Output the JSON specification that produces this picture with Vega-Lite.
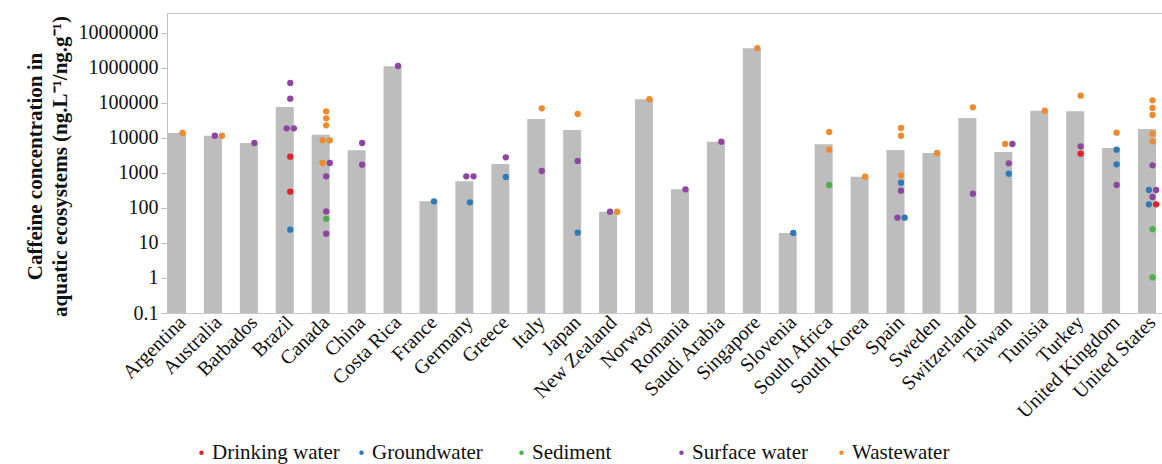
{
  "$schema": "https://vega.github.io/schema/vega-lite/v6.json",
  "autosize": {"type": "none"},
  "padding": {"left": 167, "top": 13, "right": 0, "bottom": 151},
  "width": 995,
  "height": 300,
  "background": "white",
  "config": {
    "view": {"stroke": "#c8c8c8", "strokeWidth": 1},
    "font": "Liberation Serif",
    "axis": {"labelFont": "Liberation Serif", "labelColor": "#111", "titleFont": "Liberation Serif", "titleColor": "#111", "domainColor": "#bfbfbf", "tickColor": "#bfbfbf", "grid": false},
    "legend": {"labelFont": "Times New Roman", "labelColor": "#111", "labelFontSize": 21}
  },
  "datasets": {
    "bars": [
      {"country": "Argentina", "value": 13900},
      {"country": "Australia", "value": 11600},
      {"country": "Barbados", "value": 7200},
      {"country": "Brazil", "value": 76900},
      {"country": "Canada", "value": 12400},
      {"country": "China", "value": 4450},
      {"country": "Costa Rica", "value": 1120000},
      {"country": "France", "value": 155},
      {"country": "Germany", "value": 578},
      {"country": "Greece", "value": 1810},
      {"country": "Italy", "value": 34900},
      {"country": "Japan", "value": 16900},
      {"country": "New Zealand", "value": 78},
      {"country": "Norway", "value": 127000},
      {"country": "Romania", "value": 341},
      {"country": "Saudi Arabia", "value": 7850},
      {"country": "Singapore", "value": 3650000},
      {"country": "Slovenia", "value": 19.3},
      {"country": "South Africa", "value": 6590},
      {"country": "South Korea", "value": 785},
      {"country": "Spain", "value": 4540},
      {"country": "Sweden", "value": 3730},
      {"country": "Switzerland", "value": 37300},
      {"country": "Taiwan", "value": 3980},
      {"country": "Tunisia", "value": 60400},
      {"country": "Turkey", "value": 57800},
      {"country": "United Kingdom", "value": 5180},
      {"country": "United States", "value": 18100}
    ],
    "points": [
      {"country": "Argentina", "type": "Wastewater", "value": 13900, "side": 0},
      {"country": "Australia", "type": "Surface water", "value": 11600, "side": -1},
      {"country": "Australia", "type": "Wastewater", "value": 11600, "side": 1},
      {"country": "Barbados", "type": "Surface water", "value": 7200, "side": 0},
      {"country": "Brazil", "type": "Surface water", "value": 373000, "side": 0},
      {"country": "Brazil", "type": "Surface water", "value": 133000, "side": 0},
      {"country": "Brazil", "type": "Surface water", "value": 18900, "side": -1},
      {"country": "Brazil", "type": "Surface water", "value": 18900, "side": 1},
      {"country": "Brazil", "type": "Drinking water", "value": 2920, "side": 0},
      {"country": "Brazil", "type": "Drinking water", "value": 292, "side": 0},
      {"country": "Brazil", "type": "Groundwater", "value": 24, "side": 0},
      {"country": "Canada", "type": "Wastewater", "value": 57800, "side": 0},
      {"country": "Canada", "type": "Wastewater", "value": 36500, "side": 0},
      {"country": "Canada", "type": "Wastewater", "value": 23000, "side": 0},
      {"country": "Canada", "type": "Wastewater", "value": 8570, "side": -1},
      {"country": "Canada", "type": "Wastewater", "value": 8570, "side": 1},
      {"country": "Canada", "type": "Wastewater", "value": 1930, "side": -1},
      {"country": "Canada", "type": "Surface water", "value": 1930, "side": 1},
      {"country": "Canada", "type": "Surface water", "value": 803, "side": 0},
      {"country": "Canada", "type": "Surface water", "value": 80, "side": 0},
      {"country": "Canada", "type": "Sediment", "value": 49, "side": 0},
      {"country": "Canada", "type": "Surface water", "value": 18.5, "side": 0},
      {"country": "China", "type": "Surface water", "value": 7200, "side": 0},
      {"country": "China", "type": "Surface water", "value": 1730, "side": 0},
      {"country": "Costa Rica", "type": "Surface water", "value": 1140000, "side": 0},
      {"country": "France", "type": "Groundwater", "value": 155, "side": 0},
      {"country": "Germany", "type": "Surface water", "value": 803, "side": -1},
      {"country": "Germany", "type": "Surface water", "value": 803, "side": 1},
      {"country": "Germany", "type": "Groundwater", "value": 145, "side": 0},
      {"country": "Greece", "type": "Surface water", "value": 2800, "side": 0},
      {"country": "Greece", "type": "Groundwater", "value": 769, "side": 0},
      {"country": "Italy", "type": "Wastewater", "value": 70500, "side": 0},
      {"country": "Italy", "type": "Surface water", "value": 1140, "side": 0},
      {"country": "Japan", "type": "Wastewater", "value": 48500, "side": 0},
      {"country": "Japan", "type": "Surface water", "value": 2200, "side": 0},
      {"country": "Japan", "type": "Groundwater", "value": 19.7, "side": 0},
      {"country": "New Zealand", "type": "Surface water", "value": 78, "side": -1},
      {"country": "New Zealand", "type": "Wastewater", "value": 78, "side": 1},
      {"country": "Norway", "type": "Wastewater", "value": 128000, "side": 0},
      {"country": "Romania", "type": "Surface water", "value": 341, "side": 0},
      {"country": "Saudi Arabia", "type": "Surface water", "value": 7850, "side": 0},
      {"country": "Singapore", "type": "Wastewater", "value": 3700000, "side": 0},
      {"country": "Slovenia", "type": "Groundwater", "value": 19.3, "side": 0},
      {"country": "South Africa", "type": "Wastewater", "value": 14800, "side": 0},
      {"country": "South Africa", "type": "Wastewater", "value": 4640, "side": 0},
      {"country": "South Africa", "type": "Sediment", "value": 454, "side": 0},
      {"country": "South Korea", "type": "Wastewater", "value": 785, "side": 0},
      {"country": "Spain", "type": "Wastewater", "value": 19300, "side": 0},
      {"country": "Spain", "type": "Wastewater", "value": 11600, "side": 0},
      {"country": "Spain", "type": "Wastewater", "value": 857, "side": 0},
      {"country": "Spain", "type": "Groundwater", "value": 530, "side": 0},
      {"country": "Spain", "type": "Surface water", "value": 313, "side": 0},
      {"country": "Spain", "type": "Surface water", "value": 53, "side": -1},
      {"country": "Spain", "type": "Groundwater", "value": 53, "side": 1},
      {"country": "Sweden", "type": "Wastewater", "value": 3730, "side": 0},
      {"country": "Switzerland", "type": "Wastewater", "value": 75100, "side": 0},
      {"country": "Switzerland", "type": "Surface water", "value": 256, "side": 0},
      {"country": "Taiwan", "type": "Wastewater", "value": 6740, "side": -1},
      {"country": "Taiwan", "type": "Surface water", "value": 6740, "side": 1},
      {"country": "Taiwan", "type": "Surface water", "value": 1890, "side": 0},
      {"country": "Taiwan", "type": "Groundwater", "value": 955, "side": 0},
      {"country": "Tunisia", "type": "Wastewater", "value": 60400, "side": 0},
      {"country": "Turkey", "type": "Wastewater", "value": 162000, "side": 0},
      {"country": "Turkey", "type": "Surface water", "value": 5780, "side": 0},
      {"country": "Turkey", "type": "Drinking water", "value": 3570, "side": 0},
      {"country": "United Kingdom", "type": "Wastewater", "value": 14200, "side": 0},
      {"country": "United Kingdom", "type": "Groundwater", "value": 4640, "side": 0},
      {"country": "United Kingdom", "type": "Groundwater", "value": 1770, "side": 0},
      {"country": "United Kingdom", "type": "Surface water", "value": 454, "side": 0},
      {"country": "United States", "type": "Wastewater", "value": 119000, "side": 0},
      {"country": "United States", "type": "Wastewater", "value": 71900, "side": 0},
      {"country": "United States", "type": "Wastewater", "value": 45400, "side": 0},
      {"country": "United States", "type": "Wastewater", "value": 13300, "side": 0},
      {"country": "United States", "type": "Wastewater", "value": 8030, "side": 0},
      {"country": "United States", "type": "Surface water", "value": 1660, "side": 0},
      {"country": "United States", "type": "Groundwater", "value": 327, "side": -1},
      {"country": "United States", "type": "Surface water", "value": 327, "side": 1},
      {"country": "United States", "type": "Surface water", "value": 206, "side": 0},
      {"country": "United States", "type": "Groundwater", "value": 127, "side": -1},
      {"country": "United States", "type": "Drinking water", "value": 127, "side": 1},
      {"country": "United States", "type": "Sediment", "value": 25, "side": 0},
      {"country": "United States", "type": "Sediment", "value": 1.04, "side": 0}
    ]
  },
  "layer": [
    {
      "data": {"name": "bars"},
      "mark": {"type": "bar", "color": "#bdbdbd"},
      "encoding": {
        "x": {
          "field": "country", "type": "nominal", "sort": null,
          "scale": {"range": [1, 1000], "paddingInner": 0.193, "paddingOuter": 0},
          "axis": {"title": null, "ticks": false, "labelAngle": -45, "labelAlign": "right", "labelBaseline": "middle", "labelFontSize": 20, "labelPadding": 6, "labelLimit": 300, "domainColor": "#c8c8c8"}
        },
        "y": {
          "field": "value", "type": "quantitative",
          "scale": {"type": "log", "domain": [0.1, 37250000], "nice": false},
          "axis": {
            "values": [0.1, 1, 10, 100, 1000, 10000, 100000, 1000000, 10000000],
            "labelExpr": "datum.value < 1 ? '0.1' : format(datum.value, 'd')",
            "labelFontSize": 20, "tickSize": 6, "labelPadding": 3,
            "title": ["Caffeine concentration in", "aquatic ecosystems (ng.L⁻¹/ng.g⁻¹)"],
            "titleFontSize": 21, "titleFontWeight": "bold", "titleLineHeight": 25,
            "titleX": -132, "titleY": 153, "titleAlign": "center", "titleBaseline": "middle", "titleAngle": -90
          }
        },
        "y2": {"datum": 0.1}
      }
    },
    {
      "data": {"name": "points"},
      "mark": {"type": "circle", "size": 40, "opacity": 1},
      "encoding": {
        "x": {"field": "country", "type": "nominal", "sort": null},
        "xOffset": {"field": "side", "type": "quantitative", "scale": {"domain": [-1, 1], "range": [10.9, 18.1]}},
        "y": {"field": "value", "type": "quantitative"},
        "color": {
          "field": "type", "type": "nominal",
          "scale": {"domain": ["Drinking water", "Groundwater", "Sediment", "Surface water", "Wastewater"], "range": ["#e41f26", "#2b7bba", "#4daf4a", "#8e45a2", "#f08a2a"]},
          "legend": {"title": null, "orient": "none", "legendX": 24, "legendY": 429, "direction": "horizontal", "columns": 5, "gridAlign": "all", "columnPadding": 11, "symbolType": "circle", "symbolSize": 20, "symbolStrokeWidth": 0, "labelFont": "Times New Roman", "labelFontSize": 21, "labelColor": "#111", "labelOffset": 0, "padding": 0}
        }
      }
    }
  ]
}
